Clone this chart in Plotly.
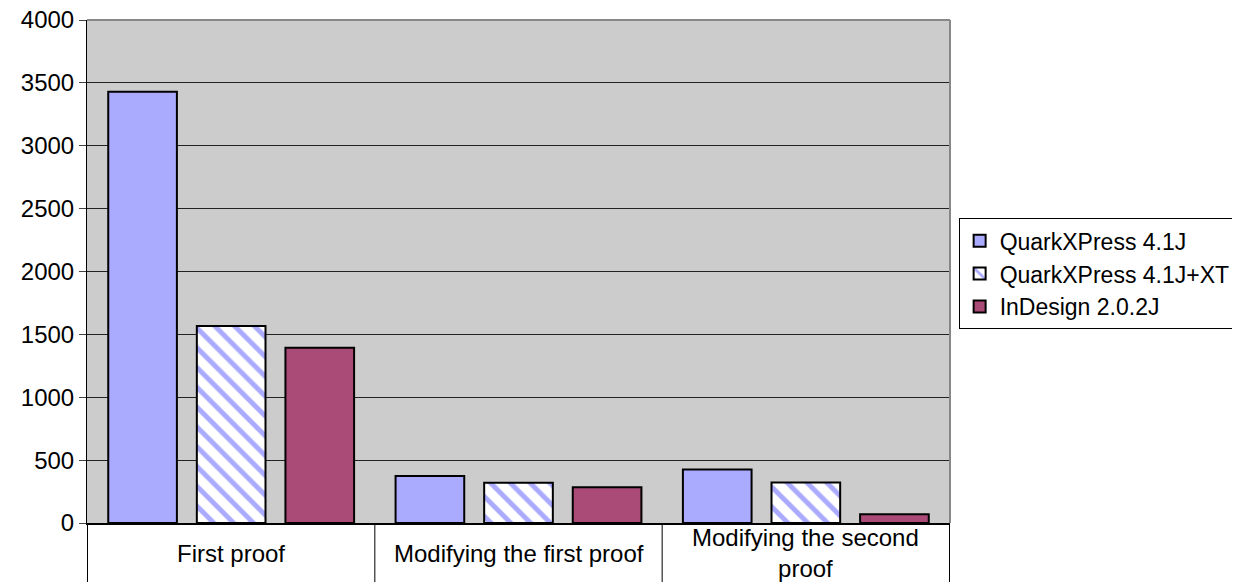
import plotly.graph_objects as go

categories = ["First proof", "Modifying the first proof", "Modifying the second proof"]
category_labels = ["First proof", "Modifying the first proof", "Modifying the second<br>proof"]
series_names = ["QuarkXPress 4.1J", "QuarkXPress 4.1J+XT", "InDesign 2.0.2J"]
quark = [3430, 374, 425]
quark_xt = [1567, 321, 323]
indesign = [1393, 284, 69]
y_ticks = [0, 500, 1000, 1500, 2000, 2500, 3000, 3500, 4000]

FAMILY = "Liberation Sans, Arial, sans-serif"
FONT = dict(family=FAMILY, size=24, color="black")

fig = go.Figure()
fig.add_trace(go.Bar(
    name=series_names[0], x=categories, y=quark,
    marker=dict(color="#AAAAFF", line=dict(color="black", width=2)),
))
fig.add_trace(go.Bar(
    name=series_names[1], x=categories, y=quark_xt,
    marker=dict(color="white", line=dict(color="black", width=2),
                pattern=dict(shape="\\", fgcolor="#AAAAFF", bgcolor="white",
                             size=14, solidity=0.35, fillmode="replace")),
))
fig.add_trace(go.Bar(
    name=series_names[2], x=categories, y=indesign,
    marker=dict(color="#A94B76", line=dict(color="black", width=2)),
))

# separators in the category label band
for i in range(len(categories) + 1):
    fig.add_shape(type="line", xref="x", yref="paper",
                  x0=i - 0.5, x1=i - 0.5, y0=0, y1=-0.2,
                  line=dict(color="black", width=1))
# category labels centred in the band
for cat, lab in zip(categories, category_labels):
    fig.add_annotation(x=cat, xref="x", y=-0.060, yref="paper", text=lab,
                       showarrow=False, yanchor="middle", xanchor="center",
                       font=FONT)
# plot border (top & right)
fig.add_shape(type="line", xref="paper", yref="paper", x0=0, x1=1, y0=1, y1=1,
              line=dict(color="#888888", width=2))
fig.add_shape(type="line", xref="paper", yref="paper", x0=1, x1=1, y0=0, y1=1,
              line=dict(color="#888888", width=2))

fig.update_layout(
    width=1232, height=574,
    margin=dict(l=79, r=290, t=12, b=59, autoexpand=False),
    paper_bgcolor="white", plot_bgcolor="#CCCCCC",
    barmode="group", bargap=0.075, bargroupgap=0.225,
    font=FONT,
    showlegend=True,
    legend=dict(x=1.010, y=0.606, xanchor="left", yanchor="top",
                bgcolor="white", bordercolor="black", borderwidth=1,
                font=dict(family=FAMILY, size=23, color="black"), itemwidth=30,
                tracegroupgap=0, itemsizing="constant"),
)
fig.update_xaxes(showgrid=False, ticks="", showline=True, linecolor="black", linewidth=2,
                 showticklabels=False, automargin=False)
fig.update_yaxes(range=[0, 4000], tickvals=y_ticks, showgrid=True, gridcolor="#222222",
                 gridwidth=1, zeroline=False, showline=True, linecolor="black", linewidth=1,
                 ticks="outside", ticklen=7, tickcolor="#444444", tickfont=FONT,
                 ticklabeloverflow="allow", automargin=False)

fig.write_html("out.html")
